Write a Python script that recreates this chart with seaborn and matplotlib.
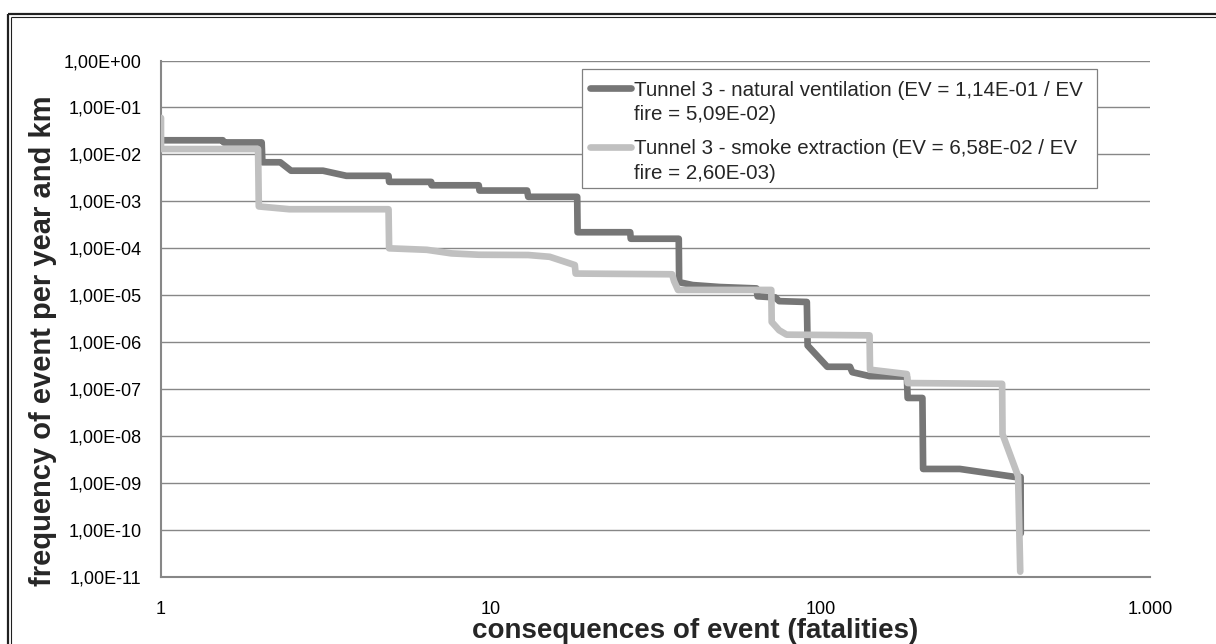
import numpy as np
import pandas as pd
import matplotlib
matplotlib.use("Agg")
import matplotlib.pyplot as plt
from matplotlib.lines import Line2D
from matplotlib.patches import Rectangle
from matplotlib.ticker import LogLocator, FixedLocator, FixedFormatter, NullFormatter
import seaborn as sns

# --- data -----------------------------------------------------------------
natural_x = [1.0, 1.54, 1.55, 2.02, 2.03, 2.3, 2.48, 3.1, 3.65, 4.9, 4.92,
             6.6, 6.62, 9.2, 9.25, 12.9, 13.0, 18.3, 18.35, 26.5, 26.6,
             37.2, 37.3, 41.0, 49.5, 64.0, 64.5, 73.0, 75.0, 91.0, 91.5,
             105.0, 123.0, 125.0, 141.0, 183.0, 184.0, 204.0, 205.0, 265.0,
             390.0, 405.0, 405.5]
natural_y = [2.0e-2, 2.0e-2, 1.8e-2, 1.8e-2, 6.8e-3, 6.8e-3, 4.5e-3, 4.5e-3,
             3.5e-3, 3.5e-3, 2.6e-3, 2.6e-3, 2.2e-3, 2.2e-3, 1.7e-3, 1.7e-3,
             1.25e-3, 1.25e-3, 2.2e-4, 2.2e-4, 1.6e-4, 1.6e-4, 1.9e-5,
             1.65e-5, 1.5e-5, 1.4e-5, 9.5e-6, 9.0e-6, 7.5e-6, 7.2e-6, 8.5e-7,
             3.0e-7, 3.0e-7, 2.3e-7, 1.9e-7, 1.85e-7, 6.5e-8, 6.5e-8, 2.0e-9,
             2.0e-9, 1.35e-9, 1.35e-9, 8.5e-11]

smoke_x = [1.0, 1.0, 1.97, 1.98, 2.45, 4.9, 4.92, 6.4, 7.6, 9.2, 13.0, 15.1,
           18.0, 18.1, 35.5, 36.0, 37.0, 71.0, 71.2, 75.0, 79.0, 141.0,
           141.5, 183.0, 184.0, 356.0, 357.0, 398.0, 404.0]
smoke_y = [6.0e-2, 1.3e-2, 1.3e-2, 7.8e-4, 6.8e-4, 6.8e-4, 1.0e-4, 9.3e-5,
           7.8e-5, 7.3e-5, 7.2e-5, 6.6e-5, 4.4e-5, 2.9e-5, 2.8e-5, 2.0e-5,
           1.3e-5, 1.3e-5, 2.7e-6, 1.8e-6, 1.45e-6, 1.4e-6, 2.6e-7, 2.1e-7,
           1.35e-7, 1.3e-7, 1.1e-8, 1.4e-9, 1.3e-11]

series_names = [
    "Tunnel 3 - natural ventilation (EV = 1,14E-01 / EV\nfire = 5,09E-02)",
    "Tunnel 3 - smoke extraction (EV = 6,58E-02 / EV\nfire = 2,60E-03)",
]
series_colors = ["#767676", "#C0C0C0"]

y_tick_values = [10.0 ** e for e in range(0, -12, -1)]
y_tick_labels = ["1,00E+00", "1,00E-01", "1,00E-02", "1,00E-03", "1,00E-04",
                 "1,00E-05", "1,00E-06", "1,00E-07", "1,00E-08", "1,00E-09",
                 "1,00E-10", "1,00E-11"]
x_tick_values = [1, 10, 100, 1000]
x_tick_labels = ["1", "10", "100", "1.000"]

x_label = "consequences of event (fatalities)"
y_label = "frequency of event per year and km"

# --- style ----------------------------------------------------------------
sns.set_theme(style="white")
plt.rcParams["font.family"] = ["Liberation Sans", "DejaVu Sans"]

W, H = 1216, 644
fig = plt.figure(figsize=(W / 100, H / 100), dpi=100, facecolor="white")

# plot area in pixels
left_px, right_px, top_px, bottom_px = 161, 1150, 60.5, 577
ax = fig.add_axes([left_px / W, 1 - bottom_px / H,
                   (right_px - left_px) / W, (bottom_px - top_px) / H])

frames = []
for name, xs, ys in [(series_names[0], natural_x, natural_y),
                     (series_names[1], smoke_x, smoke_y)]:
    frames.append(pd.DataFrame({"fatalities": xs, "frequency": ys,
                                "series": name}))
df = pd.concat(frames, ignore_index=True)

LW = 4.8
sns.lineplot(data=df, x="fatalities", y="frequency", hue="series",
             palette=dict(zip(series_names, series_colors)),
             sort=False, estimator=None, units="series", legend=False,
             linewidth=LW, ax=ax, zorder=3,
             solid_capstyle="round", solid_joinstyle="round")

ax.set_xscale("log")
ax.set_yscale("log")
ax.set_xlim(1, 1000)
ax.set_ylim(1e-11, 1)

# ticks
ax.yaxis.set_major_locator(FixedLocator(y_tick_values))
ax.yaxis.set_major_formatter(FixedFormatter(y_tick_labels))
ax.yaxis.set_minor_locator(LogLocator(base=10, subs=np.arange(2, 10), numticks=100))
ax.yaxis.set_minor_formatter(NullFormatter())
ax.xaxis.set_major_locator(FixedLocator(x_tick_values))
ax.xaxis.set_major_formatter(FixedFormatter(x_tick_labels))
ax.xaxis.set_minor_locator(LogLocator(base=10, subs=np.arange(2, 10), numticks=100))
ax.xaxis.set_minor_formatter(NullFormatter())

axis_gray = "#878787"
ax.tick_params(axis="both", which="both", direction="in", length=4,
               width=1.0, color=axis_gray, labelcolor="black", labelsize=13)
ax.tick_params(axis="y", which="major", pad=14)
ax.tick_params(axis="x", which="major", pad=17)
ax.tick_params(top=False, right=False, which="both")

ax.grid(True, axis="y", which="major", color=axis_gray, linewidth=1.0, zorder=0)
ax.grid(False, axis="x")
ax.set_axisbelow(True)

for side in ["top", "right"]:
    ax.spines[side].set_visible(False)
for side in ["left", "bottom"]:
    ax.spines[side].set_color(axis_gray)
    ax.spines[side].set_linewidth(1.5)

ax.set_xlabel(x_label, fontsize=20, fontweight="bold", va="center")
ax.set_ylabel(y_label, fontsize=21, fontweight="bold", va="center")
ax.xaxis.set_label_coords((695.5 - left_px) / (right_px - left_px),
                          (bottom_px - 631) / (bottom_px - top_px))
ax.yaxis.set_label_coords((43 - left_px) / (right_px - left_px),
                          (bottom_px - 341) / (bottom_px - top_px))


def fx(px):
    return px / W


def fy(py):
    return 1 - py / H


# legend box
lx0, lx1, ly0, ly1 = 582, 1097, 69, 188
fig.add_artist(Rectangle((fx(lx0), fy(ly1)), fx(lx1) - fx(lx0), fy(ly0) - fy(ly1),
                         transform=fig.transFigure, facecolor="white",
                         edgecolor="#808080", linewidth=0.9, zorder=10))
entry_rows = [88, 147]
line_step = 25
for name, color, row in zip(series_names, series_colors, entry_rows):
    fig.add_artist(Line2D([fx(590), fx(631)], [fy(row), fy(row)],
                          transform=fig.transFigure, color=color, linewidth=LW,
                          solid_capstyle="round", zorder=11))
    for k, part in enumerate(name.split("\n")):
        fig.text(fx(634), fy(row + k * line_step), part, fontsize=14.8,
                 va="center_baseline", ha="left", zorder=12)

# double frame around the chart
dark = "#202020"
fig.add_artist(Line2D([fx(7.5), fx(7.5)], [fy(13.5), 0], transform=fig.transFigure,
                      color=dark, linewidth=1.6, solid_capstyle="butt"))
fig.add_artist(Line2D([fx(7.5), 1], [fy(13.5), fy(13.5)], transform=fig.transFigure,
                      color=dark, linewidth=1.6, solid_capstyle="butt"))
fig.add_artist(Line2D([fx(10.5), fx(10.5)], [fy(16.5), 0], transform=fig.transFigure,
                      color=dark, linewidth=0.8, solid_capstyle="butt"))
fig.add_artist(Line2D([fx(10.5), 1], [fy(16.5), fy(16.5)], transform=fig.transFigure,
                      color=dark, linewidth=0.8, solid_capstyle="butt"))

fig.savefig("out.png", dpi=100, facecolor="white")
